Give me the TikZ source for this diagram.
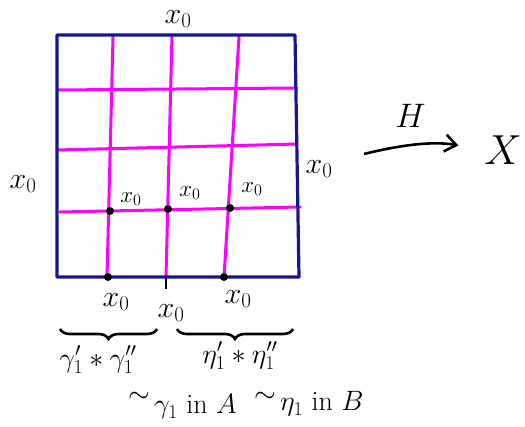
\RequirePackage{fix-cm}
\documentclass[tikz,border=0pt]{standalone}
\usetikzlibrary{arrows.meta, decorations.pathreplacing, calc}
\definecolor{frameblue}{RGB}{22,22,145}
\definecolor{gridpink}{RGB}{255,0,255}
\tikzset{
  frame/.style={draw=frameblue, line width=3.2pt, line join=round},
  gridline/.style={draw=gridpink, line width=3pt, line cap=round},
  pt/.style={circle, fill=black, inner sep=0pt, minimum size=8pt},
  lbl/.style={font=\fontsize{30}{34}\selectfont, inner sep=1pt},
  small/.style={font=\fontsize{23}{27}\selectfont, inner sep=1pt},
  capt/.style={font=\fontsize{28}{32}\selectfont, inner sep=0pt},
  arr/.style={-{Straight Barb[length=4mm, width=6mm]}, line width=2.6pt},
  brc/.style={decorate, decoration={brace, amplitude=10pt, mirror}, line width=2.6pt},
}

\begin{document}
\begin{tikzpicture}[x=1pt, y=-1pt]
  \useasboundingbox (0,0) rectangle (525,427);

  % square
  \coordinate (tl) at (57,35);
  \coordinate (tr) at (295,35);
  \coordinate (br) at (299,277);
  \coordinate (bl) at (57,277);

  % grid
  \draw[gridline] (113,37) -- (107,277);
  \draw[gridline] (172,35) -- (166,277);
  \draw[gridline] (239,37) -- (224,277);
  \draw[gridline] (57,90) -- (297,88);
  \draw[gridline] (57,150) -- (297,144);
  \draw[gridline] (60,212) -- (300,207);
  \draw[frame] (tl) -- (tr) -- (br) -- (bl) -- cycle;

  % base points
  \node[pt] (p1) at (110,211) {};
  \node[pt] (p2) at (168,209) {};
  \node[pt] (p3) at (230,208) {};
  \node[pt] (q1) at (108,277) {};
  \node[pt] (q3) at (224,277) {};
  \coordinate (q2) at (166,277);
  \draw[line width=2.6pt] (q2) -- ++(0,12);

  \node[lbl] (xtop) at (178,19) {$x_0$};
  \node[lbl] (xleft) at (23,184) {$x_0$};
  \node[lbl] (xright) at (319,169) {$x_0$};
  \node[small] (x1) at (131,199) {$x_0$};
  \node[small] (x2) at (190,193) {$x_0$};
  \node[small] (x3) at (252,189) {$x_0$};
  \node[lbl] (xb1) at (116,302) {$x_0$};
  \node[lbl] (xb2) at (171,313) {$x_0$};
  \node[lbl] (xb3) at (238,299) {$x_0$};

  % braces
  \draw[brc] (60,329) -- (157,329);
  \draw[brc] (177,329) -- (293,329);
  \node[capt] (g) at (98,360) {$\gamma_1'\ast\gamma_1''$};
  \node[capt] (e) at (240,356) {$\eta_1'\ast\eta_1''$};
  \node[capt] (ta) at (139,397) {$\sim$};
  \node[capt, anchor=west] (ga) at (154,407) {$\gamma_1$ in $A$};
  \node[capt] (tb) at (265,397) {$\sim$};
  \node[capt, anchor=west] (eb) at (280,404) {$\eta_1$ in $B$};

  % map
  \node[font=\fontsize{42}{46}\selectfont, inner sep=0pt] (X) at (503,150) {$X$};
  \coordinate (hs) at (364,154);
  \draw[arr, shorten >=26pt] (hs) to[bend left=12] node[pos=0.38, above=13pt, font=\fontsize{34}{38}\selectfont] (H) {$H$} (X.west);
\end{tikzpicture}
\end{document}
